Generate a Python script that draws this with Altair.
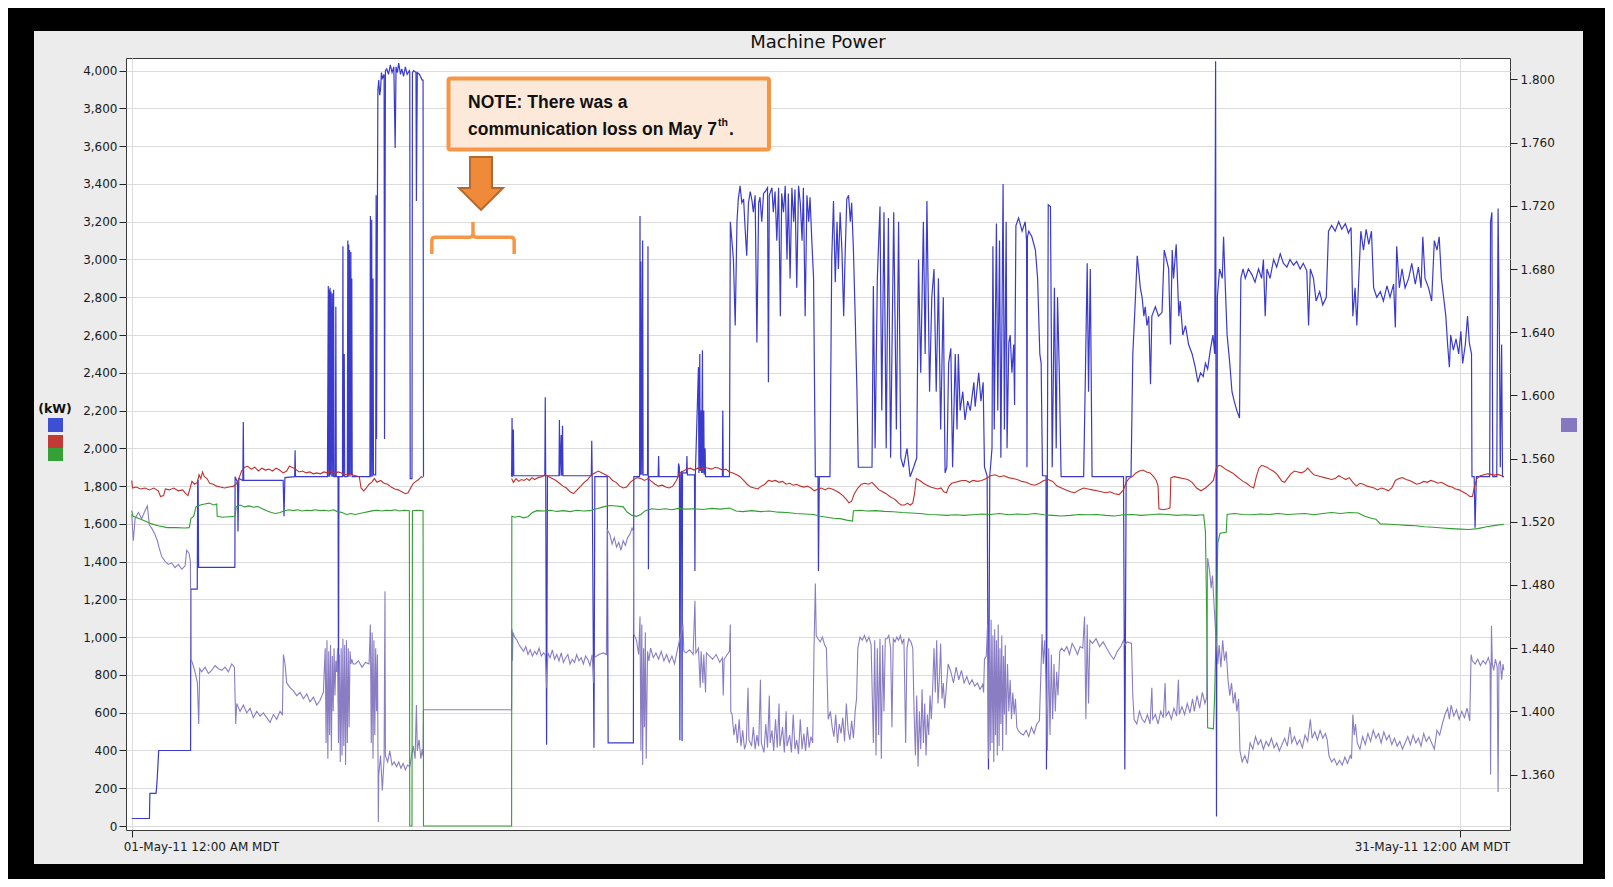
import altair as alt
import pandas as pd

START = pd.Timestamp("2011-05-01 00:00")
TITLE = "Machine Power"
X_LABELS = ["01-May-11 12:00 AM MDT", "31-May-11 12:00 AM MDT"]
LEFT_TICKS = [0, 200, 400, 600, 800, 1000, 1200, 1400, 1600, 1800, 2000,
              2200, 2400, 2600, 2800, 3000, 3200, 3400, 3600, 3800, 4000]
RIGHT_TICKS = [1.36, 1.40, 1.44, 1.48, 1.52, 1.56, 1.60, 1.64, 1.68, 1.72, 1.76, 1.80]
NOTE_LINE1 = "NOTE: There was a"
NOTE_LINE2 = "communication loss on May 7"

# (day since 01-May-11 00:00, kW)
blue_points = [
    (0.00, 40), (0.40, 40), (0.41, 173), (0.55, 173), (0.57, 227), (0.61, 400), (1.33, 400),
    (1.335, 1255), (1.48, 1255), (1.49, 1830), (1.50, 1830), (1.51, 1370), (2.33, 1370),
    (2.335, 1850), (2.39, 1820), (2.40, 1560), (2.42, 1840), (2.51, 1830), (2.52, 2140), (2.53, 1830),
    (3.42, 1830), (3.44, 1640), (3.46, 1845), (3.68, 1850), (3.69, 1990), (3.70, 1850), (4.42, 1850),
    (4.44, 2860), (4.45, 1850), (4.46, 2840), (4.47, 1850), (4.48, 2850), (4.49, 1860), (4.50, 2830),
    (4.52, 1850), (4.53, 2820), (4.55, 1850), (4.56, 2840), (4.57, 1850),
    (4.60, 1850), (4.61, 2750), (4.62, 1850), (4.66, 1850), (4.67, 650), (4.68, 1850),
    (4.76, 1850), (4.77, 3070), (4.78, 1850), (4.80, 2500), (4.81, 1850), (4.87, 1850), (4.88, 3100),
    (4.89, 1850), (4.90, 3080), (4.91, 1860), (4.92, 3050), (4.93, 1850), (4.95, 3040), (4.96, 1860),
    (4.97, 2900), (4.98, 1850),
    (5.38, 1850), (5.39, 3230), (5.40, 1850), (5.42, 3210), (5.43, 1850), (5.45, 2900), (5.46, 1860),
    (5.51, 1860), (5.52, 3340), (5.53, 2050), (5.55, 3330), (5.56, 3900), (5.58, 3950), (5.60, 3870),
    (5.62, 3900), (5.64, 3990), (5.66, 3960), (5.70, 3980), (5.71, 2050), (5.73, 4000), (5.76, 4010),
    (5.80, 3980), (5.84, 4030), (5.88, 3990), (5.92, 4020), (5.95, 3590), (5.97, 4020), (6.00, 3990),
    (6.03, 4040), (6.07, 3980), (6.10, 4010), (6.14, 3970), (6.18, 4020), (6.22, 3980), (6.27, 4000),
    (6.28, 3990), (6.29, 1840), (6.33, 1840), (6.34, 3990), (6.37, 4000), (6.42, 3990), (6.43, 3310),
    (6.45, 3990), (6.50, 3980), (6.56, 3950), (6.58, 3950), (6.59, 1850),
    (8.58, 1850), (8.59, 2160), (8.60, 1850), (8.62, 2100), (8.63, 1855), (9.33, 1855), (9.34, 2270),
    (9.35, 1855), (9.37, 430), (9.39, 1855), (9.65, 1855), (9.66, 2150), (9.67, 1855), (9.70, 2070),
    (9.71, 1855), (9.73, 2120), (9.74, 1855),
    (10.38, 1855), (10.39, 2040), (10.40, 1855), (10.44, 414), (10.46, 1850), (10.74, 1850),
    (10.76, 440), (11.33, 440), (11.34, 1850),
    (11.47, 1850), (11.48, 3230), (11.49, 1860), (11.50, 2990), (11.52, 1860), (11.54, 3100),
    (11.55, 1860), (11.65, 1860), (11.66, 3070), (11.67, 1360), (11.68, 1850), (11.89, 1850),
    (11.90, 1960), (11.91, 1850),
    (12.34, 1850), (12.35, 1920), (12.37, 1900), (12.38, 454), (12.40, 1860), (12.42, 1880),
    (12.43, 450), (12.44, 1870),
    (12.53, 1870), (12.54, 1960), (12.55, 1860), (12.71, 1860), (12.72, 1350), (12.73, 1860),
    (12.80, 2430), (12.81, 1870), (12.83, 2500), (12.84, 1880), (12.86, 2200), (12.87, 1870),
    (12.89, 2520), (12.90, 1870), (12.92, 2200), (12.93, 1860), (12.95, 2000), (12.96, 1850),
    (13.34, 1850), (13.35, 2200), (13.36, 1850), (13.50, 1850),
    (13.52, 3200), (13.59, 3000), (13.63, 2650), (13.67, 3200), (13.70, 3320), (13.74, 3390),
    (13.78, 3300), (13.82, 3320), (13.85, 3180), (13.89, 3020), (13.93, 3300), (13.97, 3360),
    (14.01, 3310), (14.04, 3250), (14.08, 3340), (14.12, 2560), (14.16, 3300), (14.19, 3330),
    (14.23, 3200), (14.27, 3350), (14.31, 3360), (14.36, 3380), (14.38, 2350), (14.40, 3340),
    (14.46, 3380), (14.49, 3250), (14.53, 3360), (14.57, 3100), (14.61, 3380), (14.65, 2700),
    (14.68, 3350), (14.72, 3250), (14.76, 3390), (14.80, 3000), (14.83, 3350), (14.87, 2900),
    (14.91, 3380), (14.95, 3200), (14.98, 3370), (15.02, 2850), (15.06, 3390), (15.10, 3300),
    (15.14, 3100), (15.17, 3380), (15.21, 2700), (15.25, 3340), (15.29, 3200), (15.32, 3330),
    (15.36, 3100), (15.40, 2900), (15.44, 1850),
    (15.50, 1850), (15.51, 1350), (15.53, 1850), (15.77, 1850),
    (15.81, 3000), (15.85, 3310), (15.89, 2880), (15.93, 3200), (15.96, 2950), (16.00, 3250),
    (16.04, 3050), (16.08, 2700), (16.11, 3000), (16.15, 3320), (16.19, 3340), (16.23, 3200),
    (16.26, 3300), (16.30, 3050), (16.34, 2700), (16.38, 2300), (16.41, 1900), (16.72, 1900),
    (16.75, 2860), (16.79, 2000), (16.84, 2900), (16.90, 3280), (16.94, 2200), (16.99, 3250),
    (17.04, 2000), (17.09, 3220), (17.14, 1950), (17.21, 3250), (17.27, 2100), (17.32, 3200),
    (17.37, 1950), (17.43, 1900), (17.51, 2000), (17.58, 1850), (17.66, 1900), (17.73, 1950),
    (17.77, 3000), (17.82, 2400), (17.88, 3200), (17.92, 2500), (17.96, 3310), (18.02, 2300),
    (18.07, 2800), (18.12, 2950), (18.17, 2300), (18.22, 2900), (18.27, 2100), (18.33, 2800),
    (18.37, 1870), (18.41, 1900), (18.45, 2450), (18.50, 2530), (18.54, 1900), (18.60, 2500),
    (18.64, 2100), (18.67, 2500), (18.71, 2200), (18.77, 2300), (18.82, 2150), (18.88, 2250),
    (18.94, 2200),
    (19.02, 2350), (19.05, 2220), (19.13, 2400), (19.18, 2250), (19.23, 2350), (19.26, 1900),
    (19.32, 1855), (19.35, 300), (19.38, 1855), (19.43, 2000), (19.45, 3070), (19.48, 2100),
    (19.53, 3190), (19.56, 2200), (19.60, 3100), (19.63, 1950), (19.68, 3400), (19.71, 2100),
    (19.75, 3200), (19.77, 2000), (19.81, 2560), (19.84, 2600), (19.88, 2400), (19.92, 2550),
    (19.94, 2230), (19.97, 3180), (20.03, 3220), (20.11, 3150), (20.18, 3200), (20.21, 3100),
    (20.22, 1900), (20.23, 3120), (20.26, 3150), (20.33, 3120), (20.41, 3050), (20.46, 2900),
    (20.51, 2500), (20.54, 2450), (20.57, 1855), (20.65, 1855), (20.66, 300), (20.68, 1855),
    (20.70, 3290), (20.75, 3280), (20.79, 1900), (20.84, 2850), (20.88, 2000), (20.91, 2800),
    (20.95, 2400), (20.99, 1850), (21.50, 1850), (21.54, 2400), (21.58, 2980), (21.61, 2300),
    (21.65, 2950), (21.69, 1850), (22.40, 1850), (22.43, 300), (22.46, 1850), (22.57, 1850),
    (22.61, 2500), (22.67, 2800), (22.71, 3020), (22.74, 2950), (22.78, 2850), (22.82, 2800),
    (22.86, 2700), (22.89, 2750), (22.93, 2650), (22.97, 2700), (23.01, 2340), (23.04, 2700),
    (23.12, 2750), (23.19, 2700), (23.27, 2720), (23.32, 3050), (23.37, 3000), (23.42, 2950),
    (23.46, 2550), (23.50, 3050), (23.53, 2900), (23.59, 3080), (23.65, 2700), (23.68, 2780),
    (23.74, 2600), (23.80, 2650), (23.87, 2550), (23.95, 2500), (24.02, 2430), (24.08, 2350),
    (24.14, 2400), (24.20, 2380), (24.25, 2450), (24.30, 2420), (24.36, 2520), (24.42, 2600),
    (24.46, 2500), (24.48, 4050), (24.50, 50), (24.52, 2800), (24.57, 2950), (24.63, 2900),
    (24.66, 3120), (24.70, 2850), (24.74, 2600), (24.80, 2450), (24.85, 2300), (24.90, 2250),
    (24.96, 2200), (25.02, 2160), (25.05, 2900), (25.10, 2950),
    (25.15, 2900), (25.22, 2950), (25.30, 2920), (25.37, 2880), (25.45, 2950), (25.52, 2900),
    (25.56, 3000), (25.60, 2700), (25.64, 2950), (25.71, 2900), (25.79, 3000), (25.86, 2960),
    (25.94, 3030), (26.01, 2980), (26.09, 2960), (26.16, 3000), (26.24, 2970), (26.31, 2990),
    (26.39, 2950), (26.46, 2980), (26.54, 2940), (26.58, 2650), (26.62, 2950), (26.69, 2900),
    (26.75, 2780), (26.83, 2830), (26.90, 2760), (26.98, 2800), (27.03, 3150), (27.10, 3180),
    (27.18, 3150), (27.26, 3200), (27.33, 3160), (27.41, 3190), (27.48, 3140), (27.54, 3170),
    (27.58, 2700), (27.63, 2850), (27.67, 2650), (27.71, 2880), (27.76, 3150), (27.82, 3050),
    (27.88, 3160), (27.94, 3080), (28.00, 3150), (28.05, 2850), (28.12, 2800), (28.20, 2830),
    (28.27, 2780), (28.35, 2860), (28.42, 2800), (28.50, 2870), (28.54, 2640), (28.57, 3070),
    (28.63, 2850), (28.69, 2950), (28.76, 2850), (28.84, 2900), (28.91, 2980), (28.99, 2870),
    (29.06, 2960), (29.12, 2850), (29.16, 3120), (29.21, 2900), (29.29, 2850), (29.36, 2780),
    (29.42, 3100), (29.48, 3050), (29.53, 3120), (29.58, 2900), (29.63, 2800), (29.68, 2700),
    (29.72, 2550), (29.76, 2430), (29.79, 2600), (29.85, 2520), (29.91, 2580), (29.97, 2500),
    (30.02, 2620), (30.06, 2450), (30.12, 2550), (30.17, 2700), (30.21, 2560), (30.26, 2500),
    (30.27, 1850), (30.32, 1850), (30.34, 1580), (30.37, 1850), (30.67, 1850), (30.69, 3200),
    (30.72, 3250), (30.74, 1850), (30.83, 1850), (30.86, 3270), (30.89, 2600), (30.91, 1900),
    (30.94, 2550), (30.96, 1850), (30.99, 1850),
]

red_points = [
    (0.00, 1830), (0.02, 1790), (0.10, 1795), (0.20, 1785), (0.30, 1790), (0.40, 1780), (0.50, 1790),
    (0.60, 1775), (0.65, 1745), (0.72, 1750), (0.76, 1785), (0.85, 1780), (0.95, 1790), (1.05, 1775),
    (1.15, 1780), (1.22, 1760), (1.27, 1750), (1.32, 1790), (1.36, 1825), (1.42, 1810), (1.48, 1820),
    (1.52, 1860), (1.56, 1840), (1.60, 1875), (1.64, 1850), (1.70, 1840), (1.76, 1815), (1.84, 1810),
    (1.92, 1800), (2.00, 1795), (2.10, 1790), (2.20, 1795), (2.30, 1800), (2.36, 1810), (2.42, 1840),
    (2.48, 1880), (2.55, 1900), (2.62, 1905), (2.70, 1890), (2.78, 1900), (2.86, 1880), (2.94, 1895),
    (3.02, 1885), (3.10, 1890), (3.18, 1880), (3.26, 1895), (3.34, 1885), (3.42, 1870), (3.50, 1880),
    (3.56, 1905), (3.62, 1900), (3.70, 1890), (3.78, 1875), (3.86, 1880), (3.94, 1870), (4.02, 1875),
    (4.10, 1865), (4.18, 1870), (4.26, 1865), (4.34, 1875), (4.42, 1870), (4.50, 1880), (4.58, 1865),
    (4.66, 1875), (4.74, 1870), (4.82, 1860), (4.90, 1865), (4.98, 1860), (5.06, 1855), (5.14, 1850),
    (5.18, 1790), (5.24, 1775), (5.30, 1790), (5.36, 1810), (5.42, 1820), (5.48, 1840), (5.54, 1820),
    (5.62, 1830), (5.70, 1815), (5.78, 1810), (5.86, 1795), (5.94, 1785), (6.02, 1780), (6.10, 1770),
    (6.18, 1760), (6.24, 1765), (6.30, 1790), (6.36, 1815), (6.42, 1825), (6.48, 1835), (6.54, 1850),
    (6.58, 1845),
    (8.58, 1840), (8.62, 1820), (8.68, 1840), (8.74, 1825), (8.80, 1835), (8.86, 1830), (8.92, 1840),
    (8.98, 1830), (9.04, 1845), (9.10, 1835), (9.18, 1845), (9.26, 1850), (9.34, 1860), (9.42, 1850),
    (9.50, 1840), (9.58, 1830), (9.66, 1815), (9.74, 1800), (9.82, 1790), (9.90, 1770), (9.98, 1760),
    (10.06, 1780), (10.14, 1800), (10.22, 1820), (10.30, 1835), (10.38, 1860), (10.46, 1870),
    (10.54, 1880), (10.62, 1870), (10.70, 1860), (10.78, 1850), (10.86, 1830), (10.94, 1820),
    (11.02, 1800), (11.10, 1790), (11.18, 1795), (11.26, 1820), (11.34, 1835), (11.42, 1845),
    (11.50, 1840), (11.58, 1830), (11.66, 1840), (11.74, 1825), (11.82, 1810), (11.90, 1800),
    (11.98, 1805), (12.06, 1795), (12.14, 1790), (12.22, 1800), (12.30, 1830), (12.38, 1870),
    (12.46, 1880), (12.54, 1890), (12.62, 1895), (12.70, 1885), (12.78, 1895), (12.86, 1890),
    (12.94, 1900), (13.02, 1895), (13.10, 1890), (13.18, 1900), (13.26, 1895), (13.34, 1885),
    (13.42, 1890), (13.50, 1875), (13.58, 1870), (13.66, 1860), (13.74, 1850), (13.82, 1830),
    (13.90, 1810), (13.98, 1795), (14.06, 1790), (14.14, 1785), (14.22, 1800), (14.30, 1810),
    (14.38, 1830), (14.46, 1825), (14.54, 1830), (14.62, 1820), (14.70, 1825), (14.78, 1810),
    (14.86, 1815), (14.94, 1805), (15.02, 1810), (15.10, 1800), (15.18, 1795), (15.26, 1800),
    (15.34, 1790), (15.42, 1775), (15.50, 1785), (15.58, 1790), (15.66, 1780), (15.74, 1790),
    (15.82, 1785), (15.90, 1775), (15.98, 1765), (16.06, 1750), (16.14, 1730), (16.20, 1712),
    (16.26, 1720), (16.32, 1760), (16.40, 1790), (16.48, 1810), (16.56, 1815), (16.64, 1810),
    (16.72, 1820), (16.80, 1800), (16.88, 1780), (16.96, 1770), (17.04, 1760), (17.12, 1745),
    (17.20, 1735), (17.26, 1725), (17.32, 1710), (17.38, 1700), (17.46, 1700), (17.52, 1710),
    (17.58, 1700), (17.64, 1710), (17.68, 1760), (17.72, 1840), (17.80, 1830), (17.88, 1815),
    (17.96, 1805), (18.04, 1795), (18.12, 1790), (18.20, 1785), (18.28, 1790), (18.34, 1770),
    (18.40, 1765), (18.46, 1800), (18.52, 1815), (18.60, 1820), (18.68, 1825), (18.76, 1830),
    (18.84, 1830), (18.92, 1820), (19.00, 1830), (19.10, 1825), (19.20, 1830), (19.30, 1840),
    (19.40, 1855), (19.50, 1860), (19.60, 1850), (19.70, 1855), (19.80, 1845), (19.90, 1840),
    (20.00, 1835), (20.10, 1825), (20.20, 1820), (20.30, 1810), (20.40, 1805), (20.50, 1815),
    (20.60, 1830), (20.70, 1835), (20.80, 1825), (20.90, 1800), (21.00, 1790), (21.10, 1780),
    (21.20, 1770), (21.30, 1765), (21.40, 1780), (21.50, 1790), (21.60, 1785), (21.70, 1780),
    (21.80, 1775), (21.90, 1770), (22.00, 1765), (22.10, 1770), (22.20, 1760), (22.30, 1755),
    (22.40, 1780), (22.46, 1820), (22.52, 1840), (22.60, 1850), (22.68, 1870), (22.76, 1880),
    (22.84, 1885), (22.92, 1875), (23.00, 1870), (23.08, 1850), (23.14, 1830), (23.18, 1800),
    (23.20, 1680), (23.30, 1675), (23.40, 1680), (23.45, 1685), (23.47, 1845), (23.55, 1850),
    (23.65, 1845), (23.75, 1840), (23.85, 1835), (23.95, 1820), (24.05, 1790), (24.15, 1775),
    (24.25, 1790), (24.35, 1810), (24.43, 1830), (24.50, 1900), (24.56, 1910), (24.62, 1905),
    (24.70, 1890), (24.78, 1880), (24.86, 1870), (24.94, 1855), (25.02, 1840), (25.10, 1825),
    (25.18, 1815), (25.26, 1800), (25.34, 1790), (25.40, 1850), (25.46, 1895), (25.52, 1910),
    (25.58, 1905), (25.64, 1900), (25.70, 1890), (25.78, 1880), (25.86, 1865), (25.92, 1845),
    (25.98, 1825), (26.04, 1820), (26.10, 1840), (26.18, 1865), (26.26, 1880), (26.34, 1875),
    (26.42, 1870), (26.50, 1880), (26.56, 1895), (26.62, 1880), (26.70, 1860), (26.78, 1855),
    (26.86, 1850), (26.94, 1845), (27.02, 1840), (27.10, 1835), (27.18, 1840), (27.26, 1855),
    (27.34, 1845), (27.42, 1835), (27.50, 1845), (27.58, 1820), (27.66, 1800), (27.74, 1815),
    (27.82, 1810), (27.90, 1800), (27.98, 1795), (28.06, 1790), (28.14, 1780), (28.22, 1790),
    (28.30, 1785), (28.38, 1775), (28.46, 1790), (28.54, 1830), (28.62, 1840), (28.70, 1845),
    (28.78, 1835), (28.86, 1830), (28.94, 1820), (29.02, 1810), (29.10, 1815), (29.18, 1825),
    (29.26, 1820), (29.34, 1830), (29.42, 1825), (29.50, 1815), (29.58, 1820), (29.66, 1810),
    (29.74, 1800), (29.82, 1795), (29.90, 1785), (29.98, 1780), (30.06, 1770), (30.14, 1760),
    (30.22, 1745), (30.28, 1745), (30.32, 1790), (30.38, 1840), (30.46, 1855), (30.54, 1860),
    (30.62, 1865), (30.70, 1862), (30.78, 1858), (30.86, 1862), (30.94, 1855), (30.99, 1850),
]

green_points = [
    (0.00, 1670), (0.03, 1640), (0.15, 1630), (0.30, 1615), (0.45, 1600), (0.60, 1590), (0.80, 1580),
    (1.00, 1580), (1.20, 1578), (1.30, 1580), (1.34, 1630), (1.40, 1640), (1.45, 1690), (1.55, 1700),
    (1.65, 1705), (1.75, 1710), (1.85, 1700), (1.92, 1705), (1.93, 1640), (2.05, 1635), (2.20, 1638),
    (2.33, 1640), (2.36, 1690), (2.45, 1700), (2.55, 1690), (2.65, 1695), (2.75, 1688), (2.85, 1692),
    (2.95, 1680), (3.05, 1670), (3.15, 1660), (3.25, 1655), (3.35, 1660), (3.45, 1670), (3.55, 1675),
    (3.65, 1670), (3.75, 1675), (3.85, 1668), (3.95, 1672), (4.05, 1670), (4.15, 1675), (4.25, 1670),
    (4.35, 1672), (4.45, 1668), (4.55, 1675), (4.65, 1665), (4.75, 1660), (4.85, 1650), (4.95, 1655),
    (5.05, 1650), (5.15, 1655), (5.25, 1660), (5.35, 1665), (5.45, 1670), (5.55, 1672), (5.65, 1668),
    (5.75, 1672), (5.85, 1670), (5.95, 1675), (6.05, 1668), (6.15, 1672), (6.27, 1670), (6.28, 0),
    (6.33, 0), (6.34, 1670), (6.45, 1672), (6.58, 1670), (6.59, 0), (8.58, 0), (8.585, 1640),
    (8.65, 1635), (8.75, 1640), (8.85, 1632), (8.95, 1638), (9.05, 1660), (9.15, 1670), (9.30, 1668),
    (9.45, 1672), (9.60, 1666), (9.75, 1670), (9.90, 1665), (10.05, 1672), (10.20, 1668),
    (10.35, 1670), (10.50, 1680), (10.65, 1690), (10.80, 1697), (10.95, 1695), (11.10, 1690),
    (11.20, 1660), (11.30, 1645), (11.40, 1640), (11.50, 1650), (11.60, 1670), (11.75, 1680),
    (11.90, 1676), (12.05, 1680), (12.20, 1675), (12.35, 1682), (12.50, 1678), (12.70, 1680),
    (12.90, 1676), (13.10, 1682), (13.30, 1678), (13.50, 1684), (13.65, 1668), (13.80, 1665),
    (14.00, 1670), (14.20, 1665), (14.40, 1668), (14.60, 1662), (14.80, 1660), (15.00, 1655),
    (15.20, 1652), (15.40, 1650), (15.55, 1640), (15.70, 1635), (15.85, 1630), (16.00, 1628),
    (16.15, 1620), (16.28, 1615), (16.30, 1670), (16.45, 1672), (16.60, 1668), (16.80, 1670),
    (17.00, 1666), (17.20, 1664), (17.40, 1660), (17.60, 1658), (17.80, 1655), (18.00, 1650),
    (18.20, 1648), (18.40, 1645), (18.60, 1648), (18.80, 1645), (19.00, 1648), (19.20, 1652),
    (19.40, 1650), (19.60, 1655), (19.80, 1648), (20.00, 1652), (20.20, 1650), (20.40, 1655),
    (20.60, 1648), (20.80, 1645), (21.00, 1642), (21.20, 1645), (21.40, 1650), (21.60, 1648),
    (21.80, 1650), (22.00, 1645), (22.20, 1642), (22.40, 1648), (22.60, 1650), (22.80, 1645),
    (23.00, 1648), (23.20, 1652), (23.40, 1650), (23.60, 1645), (23.80, 1648), (24.00, 1645),
    (24.21, 1648), (24.25, 1560), (24.28, 1100), (24.30, 520), (24.43, 515), (24.46, 700),
    (24.50, 1150), (24.53, 1500), (24.58, 1550), (24.72, 1555), (24.74, 1650), (24.90, 1655),
    (25.10, 1650), (25.30, 1648), (25.50, 1652), (25.70, 1650), (25.90, 1655), (26.10, 1650),
    (26.30, 1652), (26.50, 1655), (26.70, 1648), (26.90, 1655), (27.10, 1660), (27.30, 1655),
    (27.50, 1660), (27.70, 1658), (27.85, 1640), (28.00, 1630), (28.10, 1625), (28.20, 1600),
    (28.40, 1598), (28.60, 1595), (28.80, 1592), (29.00, 1590), (29.20, 1585), (29.40, 1582),
    (29.60, 1578), (29.80, 1575), (30.00, 1572), (30.20, 1570), (30.40, 1575), (30.60, 1585),
    (30.80, 1592), (30.99, 1598),
]

# (day, ratio on right axis)
purple_points = [
    (0.00, 1.525), (0.037, 1.508), (0.075, 1.522), (0.15, 1.526), (0.225, 1.522), (0.30, 1.527),
    (0.353, 1.530), (0.399, 1.518), (0.451, 1.516), (0.527, 1.512), (0.579, 1.508), (0.625, 1.503),
    (0.677, 1.498), (0.753, 1.495), (0.828, 1.493), (0.903, 1.494), (0.979, 1.491), (1.054, 1.493),
    (1.129, 1.490), (1.204, 1.492), (1.242, 1.502), (1.295, 1.500), (1.325, 1.495), (1.340, 1.433),
    (1.378, 1.430), (1.430, 1.425), (1.483, 1.418), (1.513, 1.392), (1.536, 1.427), (1.581, 1.425),
    (1.656, 1.428), (1.731, 1.424), (1.807, 1.426), (1.882, 1.429), (1.957, 1.427), (2.033, 1.426),
    (2.108, 1.428), (2.183, 1.425), (2.259, 1.430), (2.319, 1.428), (2.349, 1.392), (2.372, 1.405),
    (2.447, 1.400), (2.522, 1.404), (2.597, 1.399), (2.673, 1.402), (2.748, 1.396), (2.823, 1.400),
    (2.899, 1.397), (2.974, 1.399), (3.049, 1.396), (3.125, 1.393), (3.200, 1.398), (3.275, 1.395),
    (3.350, 1.400), (3.403, 1.398), (3.426, 1.436), (3.463, 1.430), (3.501, 1.418), (3.577, 1.415),
    (3.652, 1.413), (3.727, 1.410), (3.802, 1.412), (3.878, 1.408), (3.953, 1.411), (4.028, 1.406),
    (4.104, 1.409), (4.179, 1.404), (4.254, 1.407), (4.329, 1.412),
    (4.37, 1.440), (4.39, 1.380), (4.41, 1.445), (4.43, 1.370), (4.45, 1.438), (4.47, 1.385),
    (4.49, 1.442), (4.51, 1.375), (4.53, 1.435), (4.55, 1.400), (4.57, 1.440), (4.59, 1.410),
    (4.61, 1.432), (4.63, 1.425), (4.65, 1.440), (4.67, 1.380), (4.69, 1.436), (4.71, 1.368),
    (4.73, 1.440), (4.75, 1.372), (4.77, 1.446), (4.79, 1.378), (4.81, 1.442), (4.83, 1.366),
    (4.85, 1.445), (4.87, 1.380), (4.89, 1.440), (4.91, 1.390), (4.93, 1.438), (4.95, 1.430),
    (4.97, 1.433), (5.00, 1.430), (5.05, 1.430), (5.12, 1.432), (5.20, 1.428), (5.28, 1.431),
    (5.36, 1.430), (5.39, 1.455), (5.41, 1.380), (5.43, 1.450), (5.45, 1.370), (5.47, 1.445),
    (5.49, 1.385), (5.51, 1.440), (5.53, 1.400), (5.55, 1.436), (5.57, 1.330), (5.58, 1.360),
    (5.62, 1.372), (5.66, 1.350), (5.70, 1.370), (5.72, 1.476), (5.73, 1.372), (5.78, 1.368),
    (5.83, 1.375), (5.88, 1.366), (5.93, 1.368), (5.98, 1.365), (6.03, 1.368), (6.08, 1.364),
    (6.13, 1.367), (6.18, 1.363), (6.23, 1.366), (6.28, 1.365), (6.32, 1.372), (6.36, 1.378),
    (6.40, 1.370), (6.43, 1.404), (6.45, 1.375), (6.49, 1.382), (6.53, 1.370), (6.56, 1.376),
    (6.58, 1.372), (6.59, 1.401), (8.58, 1.401), (8.59, 1.452), (8.60, 1.432), (8.61, 1.450),
    (8.65, 1.447), (8.70, 1.445), (8.75, 1.442), (8.80, 1.440), (8.85, 1.438), (8.90, 1.441),
    (8.95, 1.436), (9.00, 1.439), (9.05, 1.435), (9.10, 1.438), (9.15, 1.436), (9.20, 1.440),
    (9.25, 1.435), (9.30, 1.437), (9.34, 1.436), (9.37, 1.415), (9.40, 1.437), (9.45, 1.434),
    (9.50, 1.439), (9.55, 1.433), (9.60, 1.436), (9.65, 1.432), (9.70, 1.437), (9.75, 1.431),
    (9.80, 1.434), (9.85, 1.436), (9.90, 1.430), (9.95, 1.433), (10.00, 1.431), (10.05, 1.436),
    (10.10, 1.432), (10.15, 1.434), (10.20, 1.430), (10.25, 1.435), (10.30, 1.433), (10.35, 1.429),
    (10.40, 1.436), (10.43, 1.418), (10.45, 1.434), (10.55, 1.436), (10.65, 1.437), (10.72, 1.436),
    (10.74, 1.515), (10.80, 1.512), (10.85, 1.506), (10.90, 1.510), (10.95, 1.504), (11.00, 1.507),
    (11.05, 1.502), (11.10, 1.508), (11.15, 1.505), (11.20, 1.510), (11.25, 1.512), (11.30, 1.516),
    (11.33, 1.514), (11.34, 1.449), (11.40, 1.445), (11.45, 1.436), (11.48, 1.460), (11.50, 1.375),
    (11.52, 1.455), (11.54, 1.366), (11.56, 1.440), (11.58, 1.390), (11.60, 1.450), (11.62, 1.370),
    (11.65, 1.438), (11.68, 1.432), (11.72, 1.440), (11.78, 1.434), (11.84, 1.437), (11.90, 1.433),
    (11.96, 1.438), (12.02, 1.432), (12.08, 1.436), (12.14, 1.431), (12.20, 1.435), (12.26, 1.430),
    (12.31, 1.437), (12.45, 1.455), (12.47, 1.438), (12.52, 1.437), (12.60, 1.439), (12.68, 1.436),
    (12.72, 1.470), (12.74, 1.437), (12.80, 1.440), (12.84, 1.415), (12.86, 1.438), (12.90, 1.418),
    (12.92, 1.436), (12.96, 1.412), (12.98, 1.437), (13.05, 1.435), (13.12, 1.433), (13.20, 1.436),
    (13.28, 1.431), (13.34, 1.434), (13.36, 1.410), (13.38, 1.433), (13.45, 1.436), (13.50, 1.438),
    (13.52, 1.455), (13.53, 1.400), (13.56, 1.398), (13.60, 1.385), (13.64, 1.392), (13.68, 1.380),
    (13.72, 1.395), (13.76, 1.378), (13.80, 1.388), (13.84, 1.376), (13.88, 1.380), (13.92, 1.415),
    (13.94, 1.382), (14.00, 1.378), (14.04, 1.390), (14.08, 1.376), (14.12, 1.385), (14.16, 1.378),
    (14.20, 1.420), (14.22, 1.380), (14.28, 1.374), (14.32, 1.392), (14.36, 1.377), (14.40, 1.410),
    (14.42, 1.380), (14.46, 1.388), (14.50, 1.375), (14.54, 1.395), (14.58, 1.377), (14.62, 1.405),
    (14.64, 1.378), (14.70, 1.390), (14.74, 1.374), (14.78, 1.400), (14.80, 1.378), (14.86, 1.385),
    (14.90, 1.374), (14.94, 1.398), (14.98, 1.376), (15.02, 1.382), (15.06, 1.373), (15.10, 1.395),
    (15.14, 1.376), (15.18, 1.386), (15.22, 1.375), (15.26, 1.390), (15.30, 1.377), (15.34, 1.384),
    (15.38, 1.380), (15.41, 1.440), (15.44, 1.481), (15.46, 1.448), (15.50, 1.446), (15.55, 1.444),
    (15.60, 1.447), (15.65, 1.442), (15.69, 1.440), (15.73, 1.395), (15.78, 1.400), (15.82, 1.390),
    (15.86, 1.384), (15.90, 1.398), (15.94, 1.380), (15.98, 1.392), (16.02, 1.386), (16.06, 1.396),
    (16.10, 1.381), (16.14, 1.405), (16.18, 1.388), (16.22, 1.382), (16.26, 1.394), (16.30, 1.383),
    (16.34, 1.400), (16.37, 1.408), (16.40, 1.440), (16.45, 1.447), (16.50, 1.445), (16.55, 1.448),
    (16.60, 1.444), (16.65, 1.447), (16.70, 1.442), (16.75, 1.380), (16.78, 1.445), (16.81, 1.372),
    (16.84, 1.440), (16.87, 1.385), (16.90, 1.446), (16.93, 1.370), (16.96, 1.442), (16.99, 1.400),
    (17.02, 1.446), (17.06, 1.446), (17.10, 1.448), (17.14, 1.440), (17.17, 1.390), (17.20, 1.446),
    (17.24, 1.444), (17.28, 1.447), (17.32, 1.445), (17.36, 1.448), (17.40, 1.443), (17.44, 1.446),
    (17.48, 1.380), (17.51, 1.440), (17.55, 1.446), (17.60, 1.444), (17.64, 1.440), (17.67, 1.400),
    (17.70, 1.372), (17.73, 1.410), (17.76, 1.365), (17.79, 1.400), (17.82, 1.376), (17.85, 1.414),
    (17.88, 1.380), (17.91, 1.405), (17.94, 1.372), (17.97, 1.398), (18.00, 1.385), (18.03, 1.410),
    (18.06, 1.395), (18.09, 1.415), (18.12, 1.440), (18.15, 1.412), (18.18, 1.445), (18.21, 1.405),
    (18.24, 1.420), (18.27, 1.443), (18.30, 1.408), (18.33, 1.418), (18.36, 1.402), (18.39, 1.412),
    (18.44, 1.430), (18.50, 1.425), (18.56, 1.418), (18.62, 1.428), (18.68, 1.420), (18.74, 1.426),
    (18.80, 1.418), (18.86, 1.422), (18.92, 1.417), (18.98, 1.420), (19.04, 1.416), (19.10, 1.418),
    (19.16, 1.414), (19.22, 1.417), (19.24, 1.412), (19.26, 1.433), (19.30, 1.435), (19.33, 1.455),
    (19.35, 1.370), (19.37, 1.450), (19.39, 1.375), (19.41, 1.458), (19.43, 1.380), (19.45, 1.448),
    (19.47, 1.368), (19.49, 1.452), (19.51, 1.385), (19.53, 1.445), (19.55, 1.372), (19.57, 1.455),
    (19.59, 1.378), (19.61, 1.440), (19.63, 1.392), (19.65, 1.448), (19.67, 1.375), (19.69, 1.435),
    (19.71, 1.398), (19.73, 1.442), (19.75, 1.385), (19.78, 1.430), (19.81, 1.400), (19.84, 1.420),
    (19.87, 1.395), (19.90, 1.412), (19.93, 1.398), (19.96, 1.408), (19.99, 1.390), (20.02, 1.388),
    (20.08, 1.386), (20.14, 1.385), (20.20, 1.388), (20.26, 1.384), (20.32, 1.390), (20.38, 1.386),
    (20.44, 1.392), (20.50, 1.394), (20.53, 1.420), (20.56, 1.449), (20.59, 1.430), (20.62, 1.445),
    (20.65, 1.420), (20.68, 1.375), (20.71, 1.440), (20.74, 1.385), (20.77, 1.436), (20.80, 1.395),
    (20.83, 1.430), (20.86, 1.400), (20.89, 1.425), (20.92, 1.410), (20.96, 1.438), (21.00, 1.440),
    (21.06, 1.438), (21.12, 1.441), (21.18, 1.436), (21.24, 1.443), (21.30, 1.440), (21.36, 1.436),
    (21.42, 1.441), (21.48, 1.440), (21.52, 1.460), (21.55, 1.395), (21.58, 1.455), (21.61, 1.405),
    (21.64, 1.445), (21.70, 1.443), (21.78, 1.446), (21.86, 1.441), (21.94, 1.444), (22.02, 1.440),
    (22.10, 1.436), (22.18, 1.433), (22.26, 1.438), (22.34, 1.441), (22.40, 1.445), (22.44, 1.442),
    (22.48, 1.444), (22.58, 1.443), (22.61, 1.410), (22.64, 1.395), (22.70, 1.392), (22.76, 1.400),
    (22.82, 1.395), (22.88, 1.393), (22.94, 1.398), (23.00, 1.392), (23.04, 1.415), (23.06, 1.395),
    (23.12, 1.398), (23.18, 1.392), (23.24, 1.400), (23.30, 1.396), (23.34, 1.418), (23.36, 1.397),
    (23.42, 1.400), (23.48, 1.395), (23.54, 1.402), (23.60, 1.397), (23.64, 1.420), (23.66, 1.398),
    (23.72, 1.403), (23.78, 1.398), (23.84, 1.405), (23.90, 1.399), (23.96, 1.408), (24.00, 1.400),
    (24.06, 1.410), (24.12, 1.402), (24.18, 1.412), (24.24, 1.405), (24.28, 1.409), (24.30, 1.497),
    (24.34, 1.490), (24.38, 1.478), (24.41, 1.486), (24.44, 1.470), (24.47, 1.455), (24.53, 1.430),
    (24.56, 1.442), (24.60, 1.428), (24.64, 1.445), (24.68, 1.432), (24.72, 1.438), (24.76, 1.420),
    (24.80, 1.410), (24.84, 1.418), (24.88, 1.405), (24.92, 1.412), (24.96, 1.400), (25.00, 1.408),
    (25.03, 1.375), (25.08, 1.368), (25.14, 1.372), (25.20, 1.367), (25.26, 1.380), (25.32, 1.376),
    (25.38, 1.384), (25.44, 1.379), (25.50, 1.382), (25.56, 1.376), (25.62, 1.381), (25.68, 1.378),
    (25.74, 1.383), (25.80, 1.377), (25.86, 1.380), (25.92, 1.375), (25.98, 1.379), (26.04, 1.383),
    (26.10, 1.378), (26.16, 1.390), (26.20, 1.380), (26.26, 1.384), (26.32, 1.379), (26.38, 1.382),
    (26.44, 1.377), (26.50, 1.385), (26.56, 1.381), (26.62, 1.395), (26.66, 1.383), (26.72, 1.387),
    (26.78, 1.382), (26.84, 1.388), (26.90, 1.383), (26.96, 1.386), (27.00, 1.382), (27.04, 1.372),
    (27.10, 1.368), (27.16, 1.370), (27.22, 1.366), (27.28, 1.369), (27.34, 1.366), (27.40, 1.371),
    (27.46, 1.367), (27.52, 1.372), (27.55, 1.370), (27.58, 1.398), (27.61, 1.385), (27.64, 1.392),
    (27.68, 1.380), (27.74, 1.376), (27.80, 1.384), (27.86, 1.379), (27.92, 1.386), (27.98, 1.381),
    (28.04, 1.388), (28.10, 1.383), (28.16, 1.386), (28.22, 1.380), (28.28, 1.387), (28.34, 1.382),
    (28.40, 1.385), (28.46, 1.379), (28.52, 1.383), (28.58, 1.378), (28.64, 1.381), (28.70, 1.376),
    (28.76, 1.380), (28.82, 1.384), (28.88, 1.379), (28.94, 1.385), (29.00, 1.380), (29.06, 1.383),
    (29.12, 1.378), (29.18, 1.386), (29.24, 1.381), (29.30, 1.384), (29.36, 1.380), (29.42, 1.376),
    (29.48, 1.388), (29.54, 1.385), (29.60, 1.392), (29.66, 1.398), (29.72, 1.402), (29.76, 1.395),
    (29.80, 1.404), (29.86, 1.397), (29.92, 1.401), (29.98, 1.395), (30.04, 1.400), (30.10, 1.396),
    (30.16, 1.402), (30.22, 1.394), (30.25, 1.436), (30.28, 1.432), (30.34, 1.430), (30.40, 1.433),
    (30.46, 1.429), (30.52, 1.432), (30.58, 1.430), (30.64, 1.434), (30.68, 1.430), (30.69, 1.360),
    (30.71, 1.454), (30.73, 1.430), (30.76, 1.426), (30.80, 1.433), (30.84, 1.428), (30.86, 1.349),
    (30.88, 1.430), (30.91, 1.432), (30.94, 1.420), (30.97, 1.430), (30.99, 1.426),
]

GAP_MIDDLE_DAY = 7.5


def frame(points, split_gap):
    df = pd.DataFrame(points, columns=["day", "value"])
    df["time"] = START + pd.to_timedelta(df["day"], unit="D")
    df["seg"] = (df["day"] > GAP_MIDDLE_DAY).astype(int) if split_gap else 0
    return df[["time", "value", "seg"]]


blue_df = frame(blue_points, True)
red_df = frame(red_points, True)
green_df = frame(green_points, False)
purple_df = frame(purple_points, False)

W, H = 1384, 772
FONT = "DejaVu Sans"
NOTE_FONT = "Liberation Sans"

x_scale = alt.Scale(domain=[alt.DateTime(year=2011, month=4, date=30, hours=20, minutes=54),
                            alt.DateTime(year=2011, month=6, date=1, hours=3, minutes=6)])
x_axis = alt.Axis(values=[alt.DateTime(year=2011, month=5, date=1),
                          alt.DateTime(year=2011, month=5, date=31)],
                  labels=False, title=None, tickSize=7, tickColor="#222", domain=False,
                  grid=True, gridColor="#dcdcdc", gridWidth=1)
X = alt.X("time:T", scale=x_scale, axis=x_axis)

left_scale = alt.Scale(domain=[-21, 4067], nice=False, zero=False)
right_scale = alt.Scale(domain=[1.3249, 1.8136], nice=False, zero=False)

left_axis = alt.Axis(values=LEFT_TICKS, format=",d", title=None, orient="left",
                     grid=True, gridColor="#dcdcdc", gridWidth=1, tickSize=7,
                     tickColor="#222", domain=False, labelFont=FONT, labelFontSize=12,
                     labelColor="#1a1a1a", labelPadding=2)
right_axis = alt.Axis(values=RIGHT_TICKS, format=".3f", title=None, orient="right",
                      grid=False, tickSize=7, tickColor="#222", domain=False,
                      labelFont=FONT, labelFontSize=12, labelColor="#1a1a1a", labelPadding=3)


def line(df, color, width, scale, axis):
    return alt.Chart(df).mark_line(color=color, strokeWidth=width, interpolate="linear").encode(
        x=X,
        y=alt.Y("value:Q", scale=scale, axis=axis),
        detail="seg:N",
    )


blue = line(blue_df, "#3a3acd", 1.2, left_scale, left_axis)
purple = line(purple_df, "#8a7dc4", 1.1, right_scale, right_axis)
green_red = alt.layer(
    line(green_df, "#2f9e2f", 1.1, left_scale, None),
    line(red_df, "#c0302b", 1.1, left_scale, None),
)

one = pd.DataFrame({"k": [0]})


def box(x, x2, y, y2, fill, stroke=None, sw=0, radius=0):
    kw = dict(fill=fill, cornerRadius=radius)
    if stroke:
        kw.update(stroke=stroke, strokeWidth=sw)
    else:
        kw.update(strokeWidth=0)
    return alt.Chart(one).mark_rect(**kw).encode(
        x=alt.value(x), x2=alt.value(x2), y=alt.value(y), y2=alt.value(y2))


def label(text, x, y, size, weight="normal", align="left", font=FONT, color="#1a1a1a"):
    return alt.Chart(one).mark_text(
        font=font, fontSize=size, fontWeight=weight, align=align,
        baseline="alphabetic", color=color).encode(
        x=alt.value(x), y=alt.value(y), text=alt.value(text))


# black outer frame
frame_layers = [
    box(-118, 1479, -50, -27, "#000000"),
    box(-118, 1479, 806, 821, "#000000"),
    box(-118, -92, -50, 821, "#000000"),
    box(1457, 1479, -50, 821, "#000000"),
]

# x axis labels
xl_df = pd.DataFrame({"time": [START, START + pd.Timedelta(days=30)], "label": X_LABELS})
x_label_first = alt.Chart(xl_df.iloc[[0]]).mark_text(
    font=FONT, fontSize=12, align="left", baseline="middle", color="#1a1a1a", dx=-8
).encode(x=X, y=alt.value(H + 17), text="label:N")
x_label_last = alt.Chart(xl_df.iloc[[1]]).mark_text(
    font=FONT, fontSize=12, align="right", baseline="middle", color="#1a1a1a", dx=50
).encode(x=X, y=alt.value(H + 17), text="label:N")

title = label(TITLE, W / 2, -10, 18, align="center", color="#111")

legend_layers = [
    label("(kW)", -71, 355, 12.5, weight="bold", align="center", color="#111"),
    box(-78, -63, 360, 374, "#3d4fd4"),
    box(-78, -63, 377, 390, "#c23a33"),
    box(-78, -63, 390, 403, "#35a035"),
    box(1435, 1451, 360, 374, "#8577c0"),
]

ORANGE = "#f79646"
note_layers = [
    box(322.5, 643, 20.5, 91.5, "#fde9d9", stroke=ORANGE, sw=4, radius=2),
    label(NOTE_LINE1, 342, 50.3, 17.5, weight="bold", font=NOTE_FONT, color="#111"),
    label(NOTE_LINE2, 342, 77, 17.5, weight="bold", font=NOTE_FONT, color="#111"),
    label("th", 592, 68, 10.5, weight="bold", font=NOTE_FONT, color="#111"),
    label(".", 603, 77, 17.5, weight="bold", font=NOTE_FONT, color="#111"),
]

ARROW = ("M -0.407 -0.98 L 0.407 -0.98 L 0.407 0.167 L 0.815 0.167 L 0 0.98 "
         "L -0.815 0.167 L -0.407 0.167 Z")
arrow = alt.Chart(one).mark_point(
    shape=ARROW, size=2916, filled=True, fill="#ee8a3a", stroke="#b4682b",
    strokeWidth=2, opacity=1, fillOpacity=1).encode(x=alt.value(355), y=alt.value(125.5))

BRACE = ("M -0.98 0.38 L -0.98 0.06 Q -0.98 -0.02 -0.9 -0.02 L -0.08 -0.02 Q 0 -0.02 0 -0.1 "
         "L 0 -0.38 L 0 -0.1 Q 0 -0.02 0.08 -0.02 L 0.9 -0.02 Q 0.98 -0.02 0.98 0.06 L 0.98 0.38")
brace = alt.Chart(one).mark_point(
    shape=BRACE, size=7056, filled=False, stroke=ORANGE, strokeWidth=3.5,
    opacity=1).encode(x=alt.value(347), y=alt.value(180))

chart = alt.layer(
    *frame_layers,
    blue, purple, green_red,
    x_label_first, x_label_last, title,
    *legend_layers,
    *note_layers, arrow, brace,
).resolve_scale(y="independent").properties(
    width=W, height=H,
    autosize=alt.AutoSizeParams(type="none"),
    padding={"left": 118, "top": 50, "right": 95, "bottom": 49},
    background="#ececec",
).configure_view(fill="white", stroke="#3a3a3a", strokeWidth=1)

chart.save("out.html", embed_options={"renderer": "svg", "actions": False})
